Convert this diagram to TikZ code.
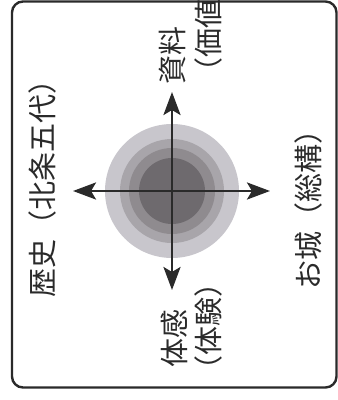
\documentclass[tikz,border=0pt]{standalone}
\usepackage{fontspec}
\newfontfamily\jpfont{Noto Sans CJK JP}
\usetikzlibrary{arrows.meta}
\definecolor{ink}{HTML}{2A2A2A}
\definecolor{ringA}{HTML}{C8C6CC}
\definecolor{ringB}{HTML}{A8A5AA}
\definecolor{ringC}{HTML}{8F8B8F}
\definecolor{ringD}{HTML}{6E6A6E}
\tikzset{
  lbl/.style={rotate=90, inner sep=0pt, text=ink, font=\jpfont\fontsize{29}{34}\selectfont},
  frame/.style={draw=ink, line width=2.4pt, rounded corners=11pt},
  axis/.style={draw=ink, line width=2.8pt, {Stealth[length=23pt,width=17pt,inset=5pt]}-{Stealth[length=23pt,width=17pt,inset=5pt]}},
  ring/.style={draw=none}
}
\begin{document}
\begin{tikzpicture}[x=1pt,y=-1pt]
\useasboundingbox (0,0) rectangle (338,400);
\draw[frame] (12,1.5) rectangle (336.5,387.5);
\coordinate (o) at (172,191);
\fill[ringA] (o) circle (67);
\fill[ringB] (o) circle (52);
\fill[ringC] (o) circle (43);
\fill[ringD] (o) circle (33);
\coordinate (tipN) at (172,92);
\coordinate (tipS) at (172,290);
\coordinate (tipW) at (73,191);
\coordinate (tipE) at (270,191);
\draw[axis] (tipS) -- (tipN);
\draw[axis] (tipW) -- (tipE);
\node[lbl] (hist) at (42,181) {歴史（北条五代）};
\node[lbl] (shiryo) at (173,55) {資料};
\node[lbl] (kachi) at (208,28) {（価値）};
\node[lbl] (taikan) at (174,338) {体感};
\node[lbl] (taiken) at (208,326.5) {（体験）};
\node[lbl] (oshiro) at (308,202) {お城（総構）};
\end{tikzpicture}
\end{document}
